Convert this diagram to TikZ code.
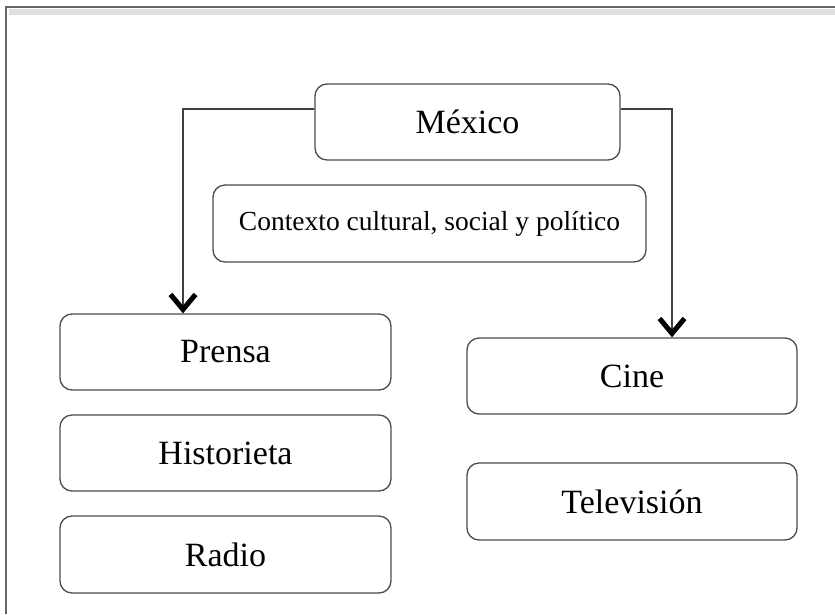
\documentclass[tikz,border=0pt]{standalone}
\usepackage{fontspec}
\setmainfont{Liberation Serif}
\usetikzlibrary{arrows.meta}
\tikzset{
  caja/.style={draw=black!70,line width=1.3pt,rounded corners=12pt,fill=white,
    font=\fontsize{34}{40}\selectfont},
  flecha/.style={draw=black!75,line width=1.3pt,
    -{Straight Barb[length=15pt,width=25pt,line width=5pt,black]}}
}

\begin{document}
\begin{tikzpicture}[x=1pt,y=-1pt]
  \def\xa{225.5}
  \def\xb{632}
  \useasboundingbox (0,0) rectangle (835,614);
  % marco
  \draw[black!12,line width=6pt] (9,12) -- (835,12);
  \draw[black!60,line width=2pt] (6,614) -- (6,7) -- (835,7);
  % nodos
  \node[caja,minimum width=305pt,minimum height=76pt] (mexico) at (467.5,122) {México};
  \node[caja,minimum width=433pt,minimum height=77pt,font=\fontsize{27.5}{32}\selectfont]
       (contexto) at (429.5,223.5) {Contexto cultural, social y político};
  \node[caja,minimum width=331pt,minimum height=76pt] (prensa) at (\xa,352) {Prensa};
  \node[caja,minimum width=331pt,minimum height=76pt] (historieta) at (\xa,453) {Historieta};
  \node[caja,minimum width=331pt,minimum height=77pt] (radio) at (\xa,554.5) {Radio};
  \node[caja,minimum width=330pt,minimum height=76pt] (cine) at (\xb,376) {Cine};
  \node[caja,minimum width=330pt,minimum height=77pt] (television) at (\xb,501.5) {Televisión};
  % conectores
  \draw[flecha] ([yshift=13pt]mexico.west) -| ([xshift=-42.5pt]prensa.north);
  \draw[flecha] ([yshift=13pt]mexico.east) -| ([xshift=40pt]cine.north);
\end{tikzpicture}
\end{document}
